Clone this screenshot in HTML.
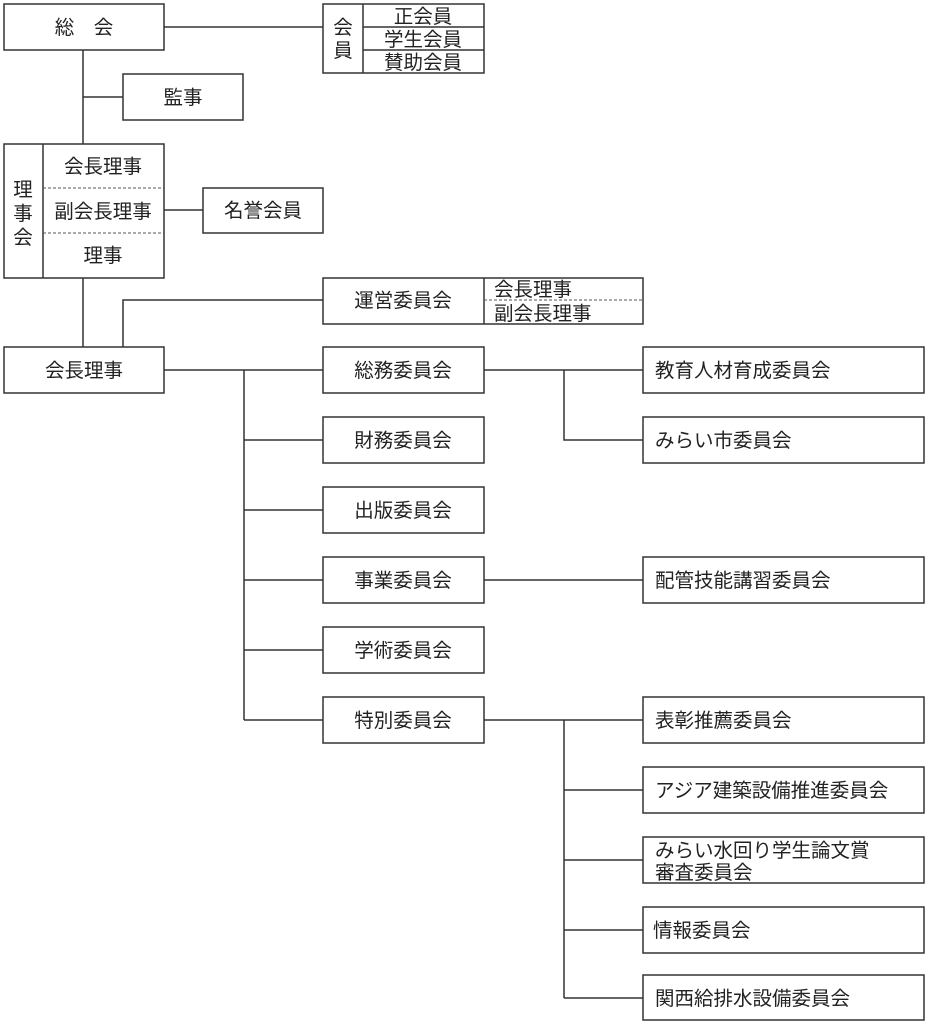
<!DOCTYPE html>
<html><head><meta charset="utf-8"><style>
html,body{margin:0;padding:0;background:#fff;}
svg{display:block;}
text{font-family:"Liberation Sans","Noto Sans CJK JP",sans-serif;font-size:19.5px;fill:#222;}
</style></head><body>
<svg width="929" height="1024" viewBox="0 0 929 1024" xmlns="http://www.w3.org/2000/svg">
<g fill="none" stroke="#333" stroke-width="1.5">
<rect x="4" y="4" width="160" height="46"/>
<rect x="323" y="4" width="161" height="69"/>
<line x1="363" y1="4" x2="363" y2="73"/>
<line x1="363" y1="27" x2="484" y2="27"/>
<line x1="363" y1="50" x2="484" y2="50"/>
<rect x="123" y="74" width="120" height="46"/>
<rect x="4" y="144" width="160" height="134"/>
<line x1="43" y1="144" x2="43" y2="278"/>
<rect x="203" y="188" width="120" height="45"/>
<rect x="323" y="278" width="320" height="46"/>
<line x1="484" y1="278" x2="484" y2="324"/>
<rect x="4" y="347" width="160" height="46"/>
<rect x="323" y="347" width="161" height="46"/>
<rect x="323" y="417" width="161" height="46"/>
<rect x="323" y="487" width="161" height="46"/>
<rect x="323" y="557" width="161" height="46"/>
<rect x="323" y="627" width="161" height="46"/>
<rect x="323" y="697" width="161" height="46"/>
<rect x="643" y="347" width="281" height="46"/>
<rect x="643" y="417" width="281" height="46"/>
<rect x="643" y="557" width="281" height="46"/>
<rect x="643" y="697" width="281" height="46"/>
<rect x="643" y="767" width="281" height="46"/>
<rect x="643" y="837" width="281" height="46"/>
<rect x="643" y="907" width="281" height="46"/>
<rect x="643" y="975" width="281" height="45"/>
<line x1="164" y1="27" x2="323" y2="27"/>
<line x1="83" y1="50" x2="83" y2="144"/>
<line x1="83" y1="97" x2="123" y2="97"/>
<line x1="164" y1="210" x2="203" y2="210"/>
<line x1="83" y1="278" x2="83" y2="347"/>
<polyline points="123,347 123,300 323,300"/>
<line x1="164" y1="370" x2="323" y2="370"/>
<line x1="244" y1="370" x2="244" y2="720"/>
<line x1="244" y1="440" x2="323" y2="440"/>
<line x1="244" y1="510" x2="323" y2="510"/>
<line x1="244" y1="580" x2="323" y2="580"/>
<line x1="244" y1="650" x2="323" y2="650"/>
<line x1="244" y1="720" x2="323" y2="720"/>
<line x1="484" y1="370" x2="643" y2="370"/>
<polyline points="564,370 564,440 643,440"/>
<line x1="484" y1="580" x2="643" y2="580"/>
<line x1="484" y1="720" x2="643" y2="720"/>
<line x1="564" y1="720" x2="564" y2="998"/>
<line x1="564" y1="790" x2="643" y2="790"/>
<line x1="564" y1="860" x2="643" y2="860"/>
<line x1="564" y1="930" x2="643" y2="930"/>
<line x1="564" y1="998" x2="643" y2="998"/>
</g>
<g fill="none" stroke="#555" stroke-width="1" stroke-dasharray="3,2">
<line x1="43" y1="188" x2="164" y2="188"/>
<line x1="43" y1="233" x2="164" y2="233"/>
<line x1="484" y1="300" x2="643" y2="300"/>
</g>
<g text-anchor="middle">
<text x="84" y="34">総　会</text>
<text x="343" y="34">会</text>
<text x="343" y="57">員</text>
<text x="423" y="23">正会員</text>
<text x="423" y="46">学生会員</text>
<text x="423" y="69">賛助会員</text>
<text x="183" y="104">監事</text>
<text x="23" y="196">理</text>
<text x="23" y="220">事</text>
<text x="23" y="244">会</text>
<text x="103" y="173">会長理事</text>
<text x="103" y="218">副会長理事</text>
<text x="103" y="262">理事</text>
<text x="263" y="217">名誉会員</text>
<text x="403" y="307">運営委員会</text>
<text x="84" y="377">会長理事</text>
<text x="403" y="377">総務委員会</text>
<text x="403" y="447">財務委員会</text>
<text x="403" y="517">出版委員会</text>
<text x="403" y="587">事業委員会</text>
<text x="403" y="657">学術委員会</text>
<text x="403" y="727">特別委員会</text>
</g>
<text x="494" y="296">会長理事</text>
<text x="494" y="320">副会長理事</text>
<text x="655" y="377">教育人材育成委員会</text>
<text x="655" y="447">みらい市委員会</text>
<text x="655" y="587">配管技能講習委員会</text>
<text x="655" y="727">表彰推薦委員会</text>
<text x="655" y="797">アジア建築設備推進委員会</text>
<text x="655" y="857">みらい水回り学生論文賞</text>
<text x="655" y="879">審査委員会</text>
<text x="653" y="937">情報委員会</text>
<text x="655" y="1005">関西給排水設備委員会</text>
</svg>
</body></html>
